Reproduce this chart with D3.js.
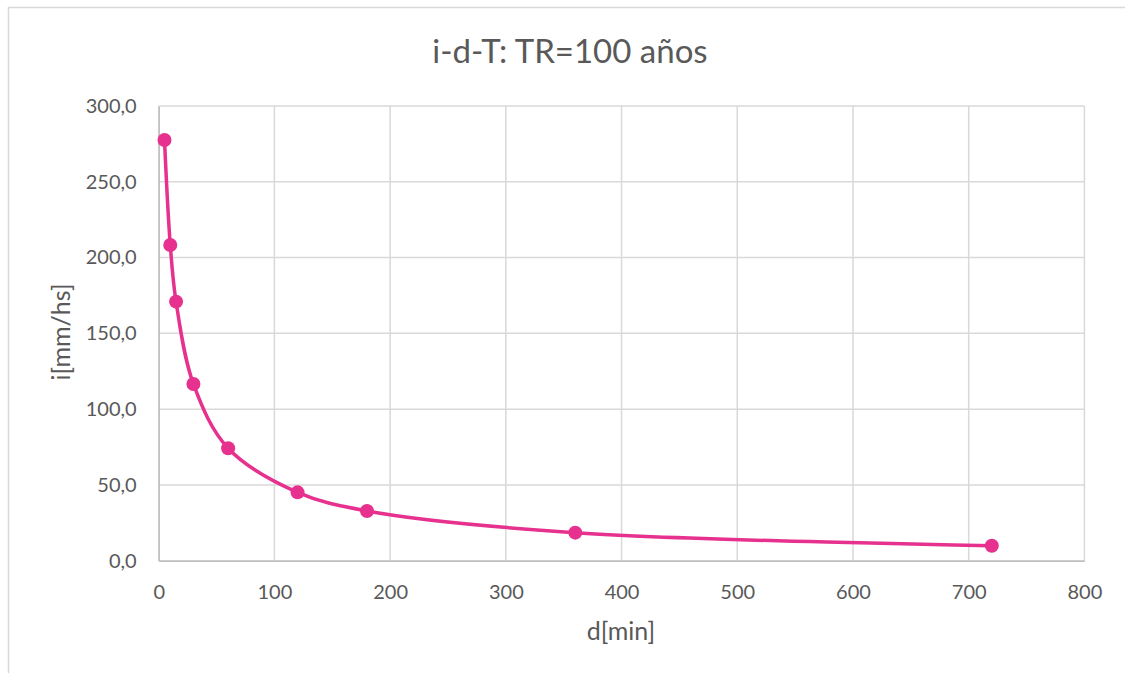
<!DOCTYPE html>
<html><head><meta charset="utf-8">
<script src="https://cdn.jsdelivr.net/npm/d3@7"></script>
<style>body{margin:0;background:#fff;}svg{display:block;}text{font-family:Lato,"Open Sans",sans-serif;fill:#595959;}</style>
</head><body>
<svg id="c" width="1125" height="673"></svg>
<script>
const durations = [5, 10, 15, 30, 60, 120, 180, 360, 720];
const intensities = [277.6, 208.3, 170.9, 116.6, 74.2, 45.1, 32.8, 18.5, 9.9];
const xTicks = [0, 100, 200, 300, 400, 500, 600, 700, 800];
const yTicks = [0, 50, 100, 150, 200, 250, 300];
const title = "i-d-T: TR=100 años";
const xLabel = "d[min]";
const yLabel = "i[mm/hs]";

const svg = d3.select("#c");
const m = {left: 158.7, right: 1084.4, top: 106, bottom: 560.7};
svg.append("rect").attr("x", 8.5).attr("y", 7.5).attr("width", 1130).attr("height", 700)
  .attr("fill", "#fff").attr("stroke", "#d9d9d9").attr("stroke-width", 1.5);

const x = d3.scaleLinear().domain([0, 800]).range([m.left, m.right]);
const y = d3.scaleLinear().domain([0, 300]).range([m.bottom, m.top]);

const g = svg.append("g");
g.selectAll(".gx").data(xTicks).join("line")
  .attr("x1", d => x(d)).attr("x2", d => x(d)).attr("y1", m.top).attr("y2", m.bottom)
  .attr("stroke", "#d9d9d9").attr("stroke-width", 1.5);
g.selectAll(".gy").data(yTicks).join("line")
  .attr("x1", m.left).attr("x2", m.right).attr("y1", d => y(d)).attr("y2", d => y(d))
  .attr("stroke", "#d9d9d9").attr("stroke-width", 1.5);

const fmt = d => d.toFixed(1).replace(".", ",");
const xa = svg.append("g").attr("transform", `translate(0,${m.bottom})`)
  .call(d3.axisBottom(x).tickValues(xTicks).tickSize(0).tickPadding(24).tickFormat(d3.format("d")));
xa.select(".domain").attr("stroke", "#bfbfbf").attr("stroke-width", 1.5);
xa.selectAll("text").attr("font-size", 20).style("fill", "#595959");
const ya = svg.append("g").attr("transform", `translate(${m.left},0)`)
  .call(d3.axisLeft(y).tickValues(yTicks).tickSize(0).tickPadding(22).tickFormat(fmt));
ya.select(".domain").attr("stroke", "#bfbfbf").attr("stroke-width", 1.5);
ya.selectAll("text").attr("font-size", 20).style("fill", "#595959");

const pts = durations.map((d, i) => [d, intensities[i]]);
const line = d3.line().x(d => x(d[0])).y(d => y(d[1])).curve(d3.curveCatmullRom.alpha(0.5));
svg.append("path").datum(pts).attr("d", line).attr("fill", "none")
  .attr("stroke", "#e6318e").attr("stroke-width", 3.5);
svg.selectAll(".pt").data(pts).join("circle")
  .attr("cx", d => x(d[0])).attr("cy", d => y(d[1])).attr("r", 7)
  .attr("fill", "#e6318e");

svg.append("text").attr("x", 570).attr("y", 63).attr("text-anchor", "middle")
  .attr("font-size", 33).text(title);
svg.append("text").attr("x", 621).attr("y", 640).attr("text-anchor", "middle")
  .attr("font-size", 25).text(xLabel);
svg.append("text").attr("transform", "translate(70,332) rotate(-90)").attr("text-anchor", "middle")
  .attr("font-size", 25).text(yLabel);
</script>
</body></html>
